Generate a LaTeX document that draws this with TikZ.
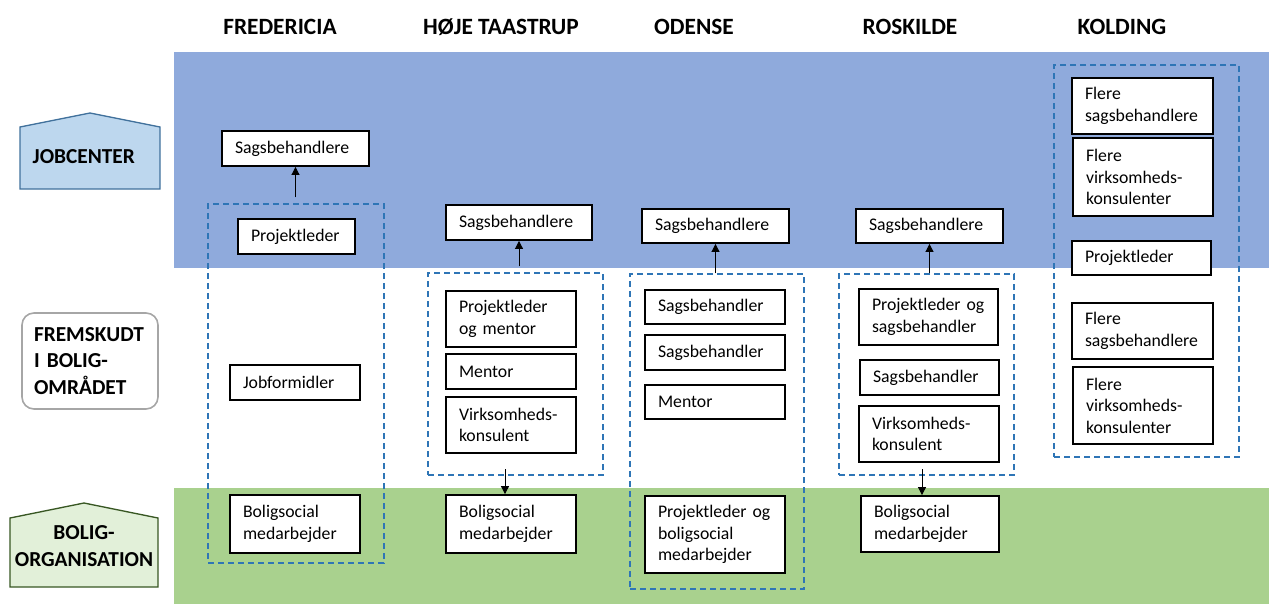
\documentclass[tikz,border=0pt]{standalone}
\usepackage{fontspec}
\setmainfont{Carlito}
\usetikzlibrary{arrows.meta}
\hyphenpenalty=10000
\exhyphenpenalty=10000
\definecolor{bandblue}{HTML}{8FAADC}
\definecolor{bandgreen}{HTML}{A9D18E}
\definecolor{jobfill}{HTML}{BDD7EE}
\definecolor{jobline}{HTML}{41719C}
\definecolor{bofill}{HTML}{E2F0D9}
\definecolor{boline}{HTML}{385723}
\definecolor{dashblue}{HTML}{2E75B6}
\definecolor{graybord}{HTML}{A6A6A6}
\tikzset{
 bx/.style={draw=black, line width=1.4pt, fill=white, inner xsep=9.75pt, inner ysep=0pt, align=left,
   font=\fontsize{13.3}{16.1}\selectfont},
 dbox/.style={draw=dashblue, line width=1.1pt, dash pattern=on 4.5pt off 3pt, inner sep=0pt},
 arr/.style={draw=black, line width=0.7pt, -{Triangle[length=6pt,width=6pt]}},
 head/.style={font=\fontsize{17.5}{20}\selectfont\bfseries},
 lab/.style={font=\fontsize{16}{19.9}\selectfont\bfseries},
}
\newcommand\bx[6]{%
 \pgfmathsetlengthmacro\bxw{(#4-#2)*0.75pt}%
 \pgfmathsetlengthmacro\bxh{(#5-#3)*0.75pt}%
 \pgfmathsetlengthmacro\bxt{(#4-#2-26)*0.75pt}%
 \node[bx, minimum width=\bxw, minimum height=\bxh, text width=\bxt] (#1) at ({(#2+#4)/2},{(#3+#5)/2}) {#6};}
\newcommand\dbx[5]{%
 \pgfmathsetlengthmacro\bxw{(#4-#2)*0.75pt}%
 \pgfmathsetlengthmacro\bxh{(#5-#3)*0.75pt}%
 \node[dbox, minimum width=\bxw, minimum height=\bxh] (#1) at ({(#2+#4)/2},{(#3+#5)/2}) {};}
\begin{document}
\begin{tikzpicture}[x=0.75pt,y=-0.75pt]
\useasboundingbox (0,0) rectangle (1269,604);
% bands
\fill[bandblue] (174,52) rectangle (1269,268);
\fill[bandgreen] (174,488) rectangle (1269,604);
% headers
\node[head] (hF) at (280,27) {FREDERICIA};
\node[head] (hH) at (501,27) {HØJE TAASTRUP};
\node[head] (hO) at (694,27) {ODENSE};
\node[head] (hR) at (910,27) {ROSKILDE};
\node[head] (hK) at (1122,27) {KOLDING};
% left labels
\draw[fill=jobfill, draw=jobline, line width=1pt] (20,127) -- (90,113) -- (160,127) -- (160,189) -- (20,189) -- cycle;
\node[lab, anchor=west] (jc) at (28,157) {JOBCENTER};
\node[draw=graybord, line width=1.2pt, rounded corners=9pt, minimum width=102pt, minimum height=72pt,
  text width=84pt, inner xsep=9pt, align=left, lab] (fr) at (90,361) {FREMSKUDT\\I BOLIG-\\OMRÅDET};
\draw[fill=bofill, draw=boline, line width=1pt] (10,518) -- (84,503) -- (158,518) -- (158,587) -- (10,587) -- cycle;
\node[lab, align=center] (bo) at (84,546) {BOLIG-\\ORGANISATION};
% dashed groups
\dbx{fdash}{208}{204}{384}{563}
\dbx{hdash}{428}{273}{603}{475}
\dbx{odash}{630}{274}{804}{589}
\dbx{rdash}{839}{274}{1014}{475}
\dbx{kdash}{1054}{65}{1239}{457}
% Fredericia
\bx{fsag}{222}{131}{369}{166}{Sagsbehandlere}
\bx{fpl}{238}{219}{355}{254}{Projektleder}
\bx{fjob}{230}{365}{360}{400}{Jobformidler}
\bx{fbol}{230}{495}{360}{553}{Boligsocial\\medarbejder}
% Hoeje Taastrup
\bx{hsag}{446}{205}{592}{240}{Sagsbehandlere}
\bx{hpl}{446}{291}{576}{347}{Projektleder\\og~mentor}
\bx{hmen}{446}{354}{576}{389}{Mentor}
\bx{hvirk}{446}{397}{576}{453}{Virksomheds-\\konsulent}
\bx{hbol}{446}{495}{576}{553}{Boligsocial\\medarbejder}
% Odense
\bx{osag}{642}{209}{789}{243}{Sagsbehandlere}
\bx{osb1}{645}{290}{785}{324}{Sagsbehandler}
\bx{osb2}{645}{335}{785}{370}{Sagsbehandler}
\bx{omen}{645}{385}{785}{419}{Mentor}
\bx{opl}{645}{496}{785}{573}{Projektleder~og\\boligsocial\\medarbejder}
% Roskilde
\bx{rsag}{856}{209}{1003}{243}{Sagsbehandlere}
\bx{rpl}{859}{289}{998}{345}{Projektleder~og\\sagsbehandler}
\bx{rsb}{860}{360}{999}{395}{Sagsbehandler}
\bx{rvirk}{859}{406}{999}{462}{Virksomheds-\\konsulent}
\bx{rbol}{861}{496}{999}{552}{Boligsocial\\medarbejder}
% Kolding
\bx{ks1}{1072}{78}{1213}{134}{Flere\\sagsbehandlere}
\bx{kv1}{1073}{138}{1213}{216}{Flere\\virksomheds-\\konsulenter}
\bx{kpl}{1072}{241}{1211}{275}{Projektleder}
\bx{ks2}{1072}{303}{1213}{359}{Flere\\sagsbehandlere}
\bx{kv2}{1073}{367}{1213}{444}{Flere\\virksomheds-\\konsulenter}
% arrows
\draw[arr] ([yshift=4.5pt]fdash.north -| fsag.south) -- (fsag.south);
\draw[arr] ([yshift=4.5pt]hdash.north -| hsag.south) -- (hsag.south);
\draw[arr] ([xshift=-4.5pt,yshift=5pt]hdash.south -| hbol.north) -- ([xshift=-4.5pt]hbol.north);
\draw[arr] (odash.north -| osag.south) -- (osag.south);
\draw[arr] (rdash.north -| rsag.south) -- (rsag.south);
\draw[arr] ([xshift=-6pt,yshift=5pt]rdash.south -| rbol.north) -- ([xshift=-6pt]rbol.north);
\end{tikzpicture}
\end{document}
